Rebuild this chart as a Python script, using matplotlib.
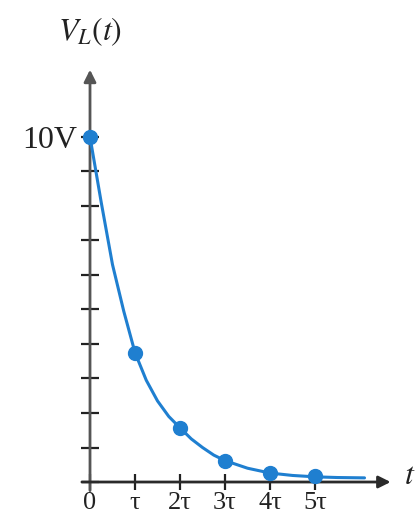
import matplotlib
matplotlib.use("Agg")
from matplotlib import pyplot as plt

# curve samples (t in units of tau, volts)
t_curve = [0, 0.25, 0.5, 0.75, 1, 1.25, 1.5, 1.75, 2, 2.25, 2.5, 2.75, 3, 3.5, 4, 4.5, 5, 5.5, 6.1]
v_curve = [10, 8.1, 6.3, 4.95, 3.75, 2.95, 2.35, 1.9, 1.57, 1.25, 1.0, 0.78, 0.62, 0.4, 0.26, 0.19, 0.15, 0.13, 0.12]

# marked points
t_pts = [0, 1, 2, 3, 4, 5]
v_pts = [10, 3.75, 1.57, 0.62, 0.27, 0.16]

x_ticks = [0, 1, 2, 3, 4, 5]
x_labels = ['0', 'τ', '2τ', '3τ', '4τ', '5τ']
y_ticks = list(range(0, 11))
y_labels = [''] * 10 + ['10V']

plt.rcParams['font.family'] = ['Liberation Serif', 'DejaVu Serif']
plt.rcParams['mathtext.fontset'] = 'stix'

fig = plt.figure(figsize=(4.16, 5.25), dpi=100)
ax = fig.add_axes([0, 0, 1, 1])
ax.set_xlim(-2, 7.244)
ax.set_ylim(-1.246, 13.97)

blue = '#1f7fd0'
ax.plot(t_curve, v_curve, color=blue, lw=2.2, zorder=3, solid_capstyle='round')
ax.plot(t_pts, v_pts, 'o', color=blue, ms=10, zorder=4)

# axes with arrow heads
ax.annotate('', xy=(0, 11.95), xytext=(0, -0.25),
            arrowprops=dict(arrowstyle='-|>', color='#555555', lw=2, mutation_scale=18,
                            shrinkA=0, shrinkB=0), zorder=2)
ax.annotate('', xy=(6.68, 0), xytext=(-0.18, 0),
            arrowprops=dict(arrowstyle='-|>', color='#2a2a2a', lw=2, mutation_scale=18,
                            shrinkA=0, shrinkB=0), zorder=2)

for s in ['top', 'right']:
    ax.spines[s].set_visible(False)
for s in ['left', 'bottom']:
    ax.spines[s].set_position(('data', 0))
    ax.spines[s].set_color('none')

ax.set_xticks(x_ticks)
ax.set_xticklabels(x_labels, fontsize=19, color='#222222')
ax.set_yticks(y_ticks)
ax.set_yticklabels(y_labels, fontsize=23, color='#222222')
ax.tick_params(axis='x', direction='inout', length=11, width=1.6, color='#222222', pad=2)
ax.tick_params(axis='y', direction='inout', length=13, width=1.6, color='#222222', pad=3)
ax.patch.set_visible(False)

ax.text(0, 13.05, r'$V_L(t)$', fontsize=23, ha='center', va='center', color='#222222')
ax.text(6.98, 0.15, r'$t$', fontsize=23, ha='left', va='center', color='#222222')

plt.savefig("out.png", dpi=100)
